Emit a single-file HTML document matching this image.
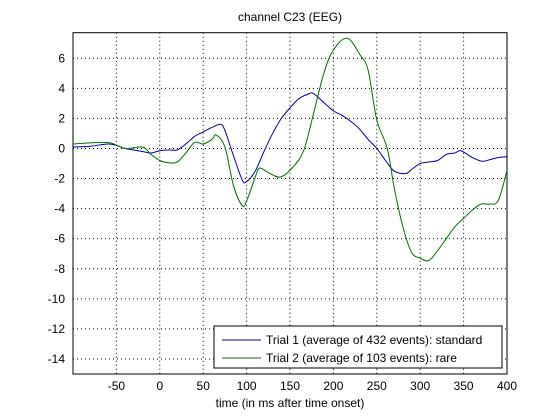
<!DOCTYPE html>
<html><head><meta charset="utf-8"><style>
body{margin:0;background:#fff;}
svg{display:block;font-family:"Liberation Sans",sans-serif;}
</style></head><body>
<svg id="chart" width="560" height="420"></svg>
<script>
const xTicks=[-50,0,50,100,150,200,250,300,350,400];
const yTicks=[6,4,2,0,-2,-4,-6,-8,-10,-12,-14];
const times=[-100,-80,-60,-50,-40,-30,-20,-10,0,10,20,30,40,50,60,70,75,85,95,100,110,120,130,140,150,160,170,177,190,200,210,220,230,240,250,260,270,283,290,300,310,320,330,340,347,360,371,380,390,400];
const trial1=[0.1,0.15,0.3,0.2,0,-0.1,-0.2,-0.3,-0.15,-0.1,-0.1,0.3,0.8,1.1,1.4,1.6,1.2,-0.5,-2.1,-2.2,-1.5,-0.2,1.0,2.0,2.7,3.3,3.6,3.65,3.0,2.5,2.2,1.8,1.3,0.6,0,-0.8,-1.5,-1.67,-1.4,-1.0,-0.9,-0.8,-0.4,-0.3,-0.15,-0.6,-0.85,-0.75,-0.6,-0.55];
const times2=[-100,-60,-40,-20,-10,0,10,20,30,40,50,60,65,75,85,95,100,110,115,125,139,154,166,177,189,200,216,231,240,250,262,270,280,290,300,310,320,330,340,350,360,370,380,390,400];
const trial2=[0.3,0.4,0,0.1,-0.4,-0.8,-0.95,-0.9,-0.3,0.4,0.3,0.6,0.9,0.1,-2.5,-3.8,-3.5,-1.9,-1.3,-1.6,-1.9,-1.2,-0.1,2.3,5.0,6.55,7.33,6.2,5.2,1.9,0,-2.6,-5.2,-6.9,-7.3,-7.45,-6.8,-6.0,-5.2,-4.65,-4.1,-3.7,-3.7,-3.45,-1.45];
const L=73,R=507,T=32.7,B=374,x0=-100,x1=400,y0=-15,y1=7.7;
const X=v=>L+(v-x0)/(x1-x0)*(R-L);
const Y=v=>B-(v-y0)/(y1-y0)*(B-T);
const svg=document.getElementById('chart');
const NS='http://www.w3.org/2000/svg';
function mk(t,a,txt){const e=document.createElementNS(NS,t);for(const k in a)e.setAttribute(k,a[k]);if(txt!==undefined)e.textContent=txt;svg.appendChild(e);return e;}
let e=mk('rect',{x:L,y:T,width:R-L,height:B-T,fill:'#fff',stroke:'#000','stroke-width':1});


xTicks.forEach(v=>{
 let g=mk('line',{x1:X(v),x2:X(v),y1:T,y2:B,stroke:'#000','stroke-dasharray':'1,3','stroke-width':1});
 
 
 let t=mk('text',{x:X(v),y:B+16,'text-anchor':'middle','font-size':12},String(v));
 
 
});
yTicks.forEach(v=>{
 let g=mk('line',{x1:L,x2:R,y1:Y(v),y2:Y(v),stroke:'#000','stroke-dasharray':'1,3','stroke-width':1});
 
 
 let t=mk('text',{x:L-8,y:Y(v)+4,'text-anchor':'end','font-size':12},String(v));
 
 
});
function line(xs,ys,c,n){
 const P=xs.map((x,i)=>[X(x),Y(ys[i])]);
 let d='M'+P[0][0]+','+P[0][1];
 for(let i=0;i<P.length-1;i++){
  const p0=P[Math.max(0,i-1)],p1=P[i],p2=P[i+1],p3=P[Math.min(P.length-1,i+2)];
  const c1=[p1[0]+(p2[0]-p0[0])/6,p1[1]+(p2[1]-p0[1])/6];
  const c2=[p2[0]-(p3[0]-p1[0])/6,p2[1]-(p3[1]-p1[1])/6];
  d+=' C'+c1.join(',')+' '+c2.join(',')+' '+p2.join(',');
 }
 const p=mk('path',{d:d,fill:'none',stroke:c,'stroke-width':1});
 
 
}
line(times,trial1,'#0000a0','trial1-line');
line(times2,trial2,'#007000','trial2-line');
let t=mk('text',{x:290,y:21,'text-anchor':'middle','font-size':12},'channel C23 (EEG)');


t=mk('text',{x:290,y:407,'text-anchor':'middle','font-size':12},'time (in ms after time onset)');


let lg=mk('rect',{x:214,y:326,width:288,height:42,fill:'#fff',stroke:'#000'});


[['Trial 1 (average of 432 events): standard','#0000a0',340],['Trial 2 (average of 103 events): rare','#007000',358]].forEach(([s,c,y])=>{
 let l=mk('line',{x1:222,x2:261,y1:y,y2:y,stroke:c});
 
 
 let tx=mk('text',{x:266,y:y+4,'font-size':12},s);
 
 
});
</script>
</body></html>
